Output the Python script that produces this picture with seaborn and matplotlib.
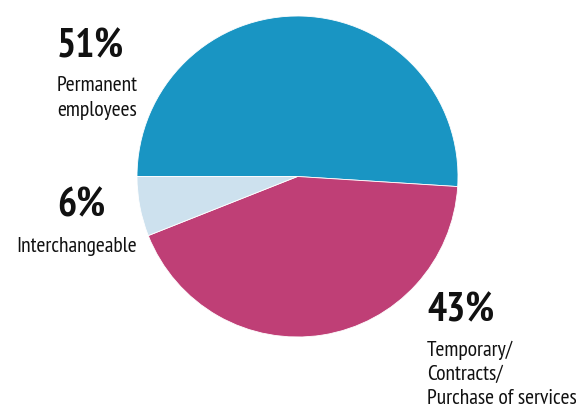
import matplotlib
matplotlib.use("Agg")
import matplotlib.pyplot as plt
import seaborn as sns

sns.set_theme(style="white")
plt.rcParams["font.family"] = ["PT Sans Narrow", "DejaVu Sans"]

# Staffing mix
categories = ["Permanent employees", "Temporary/Contracts/Purchase of services", "Interchangeable"]
shares = [51, 43, 6]
labels = ["Permanent\nemployees", "Temporary/\nContracts/\nPurchase of services", "Interchangeable"]
colors = ["#1995c3", "#bf3f76", "#cde1ee"]

W, H = 576, 409
fig = plt.figure(figsize=(W / 100, H / 100), dpi=100)
ax = fig.add_axes([0, 0, 1, 1])

cx, cy, r = 297.5, H - 176.5, 160.5
ax.pie(shares, colors=colors, startangle=180, counterclock=False,
       center=(cx, cy), radius=r, frame=True,
       wedgeprops=dict(linewidth=0.6, edgecolor="white"))
ax.set_xlim(0, W)
ax.set_ylim(0, H)
ax.set_aspect("equal")
ax.axis("off")

# label anchors: (x, baseline of percentage, x of caption, baseline of first caption line, line gap)
anchors = [
    (57, 57, 57, 91, 25.5),
    (427, 321, 427, 356, 24.0),
    (57, 216, 16, 252, 25.5),
]
for share, lab, (px, py, lx, ly, gap) in zip(shares, labels, anchors):
    ax.text(px, H - py, f"{share}%", fontsize=29, fontweight="bold",
            ha="left", va="baseline", color="#111111")
    for i, line in enumerate(lab.split("\n")):
        ax.text(lx, H - (ly + gap * i), line, fontsize=15.5,
                ha="left", va="baseline", color="#111111")

fig.savefig("out.png", dpi=100)
